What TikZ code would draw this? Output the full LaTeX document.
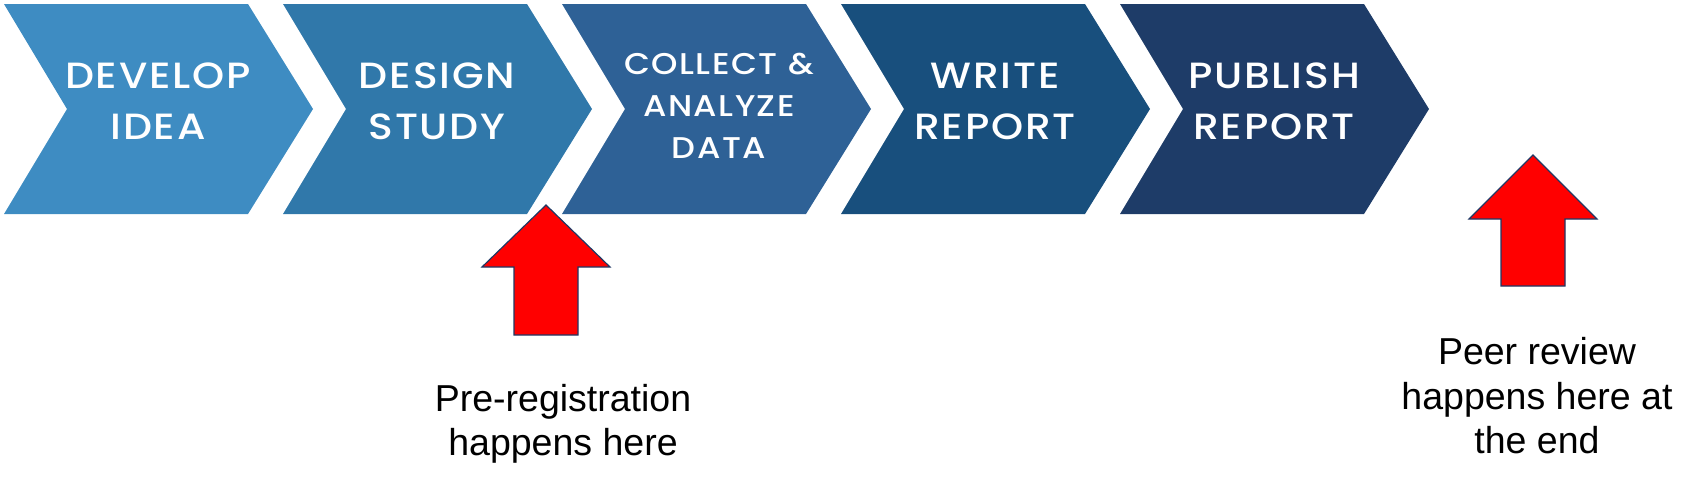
\documentclass[tikz,border=0pt]{standalone}
\usepackage{fontspec}
\setmainfont{Liberation Sans}
\newfontfamily\popfont[UprightFont={* Medium},FakeStretch=1.12,LetterSpace=5]{Poppins}
\definecolor{cA}{RGB}{62,140,194}
\definecolor{cB}{RGB}{48,120,170}
\definecolor{cC}{RGB}{46,97,150}
\definecolor{cD}{RGB}{24,79,125}
\definecolor{cE}{RGB}{30,60,104}
\definecolor{arrowline}{RGB}{31,56,100}
\begin{document}
\begin{tikzpicture}[x=1pt,y=-1pt,
  chevtext/.style={text=white,align=center,font=\popfont\fontsize{36.5}{51}\selectfont},
  chevsmall/.style={text=white,align=center,font=\popfont\fontsize{30}{42}\selectfont},
  lbl/.style={text=black,align=center,font=\fontsize{37.5}{44.5}\selectfont},
  redarrow/.style={fill=red,draw=arrowline,line width=1.2pt,line join=miter}]
\useasboundingbox (0,0) rectangle (1704,491);
\foreach \i/\col in {0/cA,1/cB,2/cC,3/cD,4/cE} {
  \fill[\col] ({4+279*\i},4) -- ++(244,0) -- ++(65,105) -- ++(-65,105) -- ++(-244,0) -- ++(63,-105) -- cycle;
}
\node[chevtext] (t1) at (158,101) {DEVELOP\\IDEA};
\node[chevtext] (t2) at (437,101) {DESIGN\\STUDY};
\node[chevsmall] (t3) at (719,106) {COLLECT \&\\ANALYZE\\DATA};
\node[chevtext] (t4) at (995,101) {WRITE\\REPORT};
\node[chevtext] (t5) at (1274,101) {PUBLISH\\REPORT};
\draw[redarrow] (546,205) -- (610,267) -- (578,267) -- (578,335) -- (514,335) -- (514,267) -- (482,267) -- cycle;
\draw[redarrow] (1533,155) -- (1597,219) -- (1565,219) -- (1565,286) -- (1501,286) -- (1501,219) -- (1469,219) -- cycle;
\node[lbl] (pre) at (563,424) {Pre-registration\\happens here};
\node[lbl] (peer) at (1537,396) {Peer review\\happens here at\\the end};
\end{tikzpicture}
\end{document}
